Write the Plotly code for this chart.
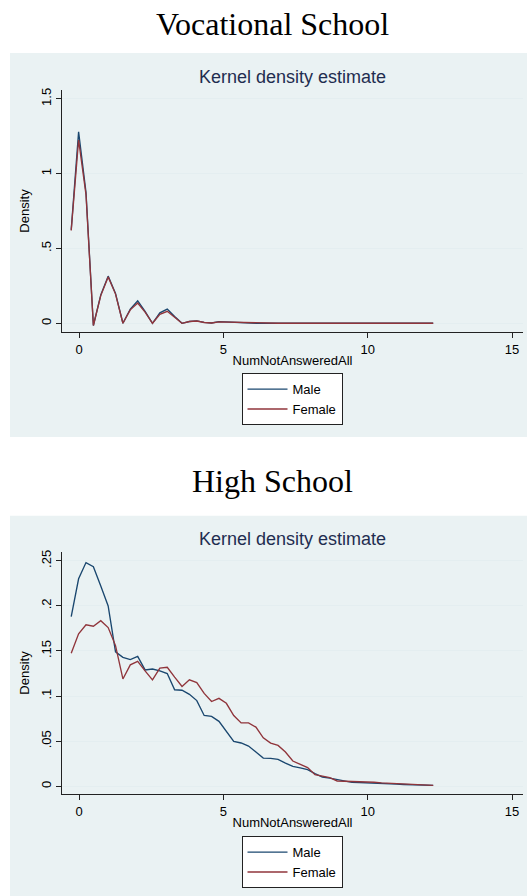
import plotly.graph_objects as go

W, H = 527, 896

# Evaluation grid of the kernel density (x values)
x_grid = [-0.270, -0.014, 0.242, 0.498, 0.754, 1.010, 1.265, 1.521, 1.777, 2.033,
          2.289, 2.545, 2.801, 3.057, 3.313, 3.569, 3.824, 4.080, 4.336, 4.592,
          4.848, 5.104, 5.360, 5.616, 5.872, 6.128, 6.383, 6.639, 6.895, 7.151,
          7.407, 7.663, 7.919, 8.175, 8.431, 8.687, 8.942, 9.198, 9.454, 9.710,
          9.966, 10.222, 10.478, 10.734, 10.990, 11.246, 11.501, 11.757, 12.013, 12.269]

voc_male = [0.625, 1.280, 0.875, -0.015, 0.190, 0.315, 0.200, 0.000, 0.095, 0.150,
            0.080, 0.000, 0.070, 0.095, 0.045, 0.000, 0.012, 0.016, 0.006, 0.002,
            0.011, 0.009, 0.003, 0.001, 0.0005, 0.0005, 0.0005, 0.0005, 0.0005, 0.0005,
            0.0005, 0.002, 0.003, 0.003, 0.002, 0.0005, 0.0005, 0.0005, 0.0005, 0.0005,
            0.0005, 0.0005, 0.0005, 0.0005, 0.0005, 0.0005, 0.0005, 0.0005, 0.0005, 0.0005]
voc_female = [0.620, 1.225, 0.860, -0.015, 0.185, 0.310, 0.195, 0.000, 0.090, 0.135,
              0.075, 0.000, 0.060, 0.080, 0.040, 0.000, 0.012, 0.015, 0.005, 0.002,
              0.009, 0.008, 0.003, 0.001, 0.0005, 0.0005, 0.0005, 0.0005, 0.0005, 0.0005,
              0.0005, 0.001, 0.001, 0.001, 0.001, 0.0005, 0.0005, 0.0005, 0.0005, 0.0005,
              0.0005, 0.0005, 0.0005, 0.0005, 0.0005, 0.0005, 0.0005, 0.0005, 0.0005, 0.0005]

hs_male = [0.188, 0.230, 0.248, 0.2435, 0.222, 0.200, 0.149, 0.143, 0.1405, 0.144,
           0.129, 0.130, 0.128, 0.125, 0.107, 0.1065, 0.102, 0.095, 0.0785, 0.0775,
           0.072, 0.061, 0.0498, 0.048, 0.0446, 0.038, 0.0313, 0.031, 0.0299, 0.0258,
           0.022, 0.0205, 0.0184, 0.014, 0.0103, 0.009, 0.0074, 0.006, 0.0044, 0.0042,
           0.004, 0.0035, 0.003, 0.0027, 0.0024, 0.002, 0.0016, 0.0013, 0.0011, 0.001]
hs_female = [0.1476, 0.169, 0.179, 0.1775, 0.1836, 0.176, 0.156, 0.119, 0.1346, 0.1386,
             0.128, 0.118, 0.131, 0.132, 0.121, 0.1106, 0.118, 0.115, 0.103, 0.094,
             0.0975, 0.092, 0.0785, 0.0703, 0.0703, 0.0656, 0.0538, 0.0479, 0.0453, 0.038,
             0.028, 0.0243, 0.0207, 0.0129, 0.011, 0.0096, 0.0059, 0.0057, 0.0055, 0.0052,
             0.005, 0.0045, 0.0038, 0.0034, 0.003, 0.0024, 0.0018, 0.0014, 0.0012, 0.001]

panel_titles = ["Vocational School", "High School"]
series_names = ["Male", "Female"]
x_ticks = [0, 5, 10, 15]
voc_y_ticks = [0, 0.5, 1, 1.5]
voc_y_text = ["0", ".5", "1", "1.5"]
hs_y_ticks = [0, 0.05, 0.1, 0.15, 0.2, 0.25]
hs_y_text = ["0", ".05", ".1", ".15", ".2", ".25"]

NAVY = "#1a476f"
MAROON = "#90353b"
BG = "#eaf2f3"
GRID = "#e4eef0"
SANS = "Liberation Sans, Arial, sans-serif"
SERIF = "Liberation Serif, Times New Roman, serif"

def py(p):  # pixel from top -> paper y
    return 1 - p / H

def px(p):
    return p / W

fig = go.Figure()

LW = 1.35
fig.add_trace(go.Scatter(x=x_grid, y=voc_male, mode="lines", name=series_names[0],
                         line=dict(color=NAVY, width=LW), xaxis="x", yaxis="y", legend="legend"))
fig.add_trace(go.Scatter(x=x_grid, y=voc_female, mode="lines", name=series_names[1],
                         line=dict(color=MAROON, width=LW), xaxis="x", yaxis="y", legend="legend"))
fig.add_trace(go.Scatter(x=x_grid, y=hs_male, mode="lines", name=series_names[0],
                         line=dict(color=NAVY, width=LW), xaxis="x2", yaxis="y2", legend="legend2"))
fig.add_trace(go.Scatter(x=x_grid, y=hs_female, mode="lines", name=series_names[1],
                         line=dict(color=MAROON, width=LW), xaxis="x2", yaxis="y2", legend="legend2"))

x_left, x_right = 62, 523
x_range = [-0.589, 15.38]

def xaxis(anchor):
    return dict(domain=[px(x_left), px(x_right)], range=x_range, anchor=anchor,
                tickvals=x_ticks, ticks="outside", ticklen=5, tickcolor="#222",
                showline=True, linecolor="#222", linewidth=1, showgrid=False,
                zeroline=False, tickfont=dict(family=SANS, size=13, color="#000"),
                title=dict(text="NumNotAnsweredAll", font=dict(family=SANS, size=13, color="#000"),
                           standoff=0))

def yaxis(anchor, dom, rng, tv, tt):
    return dict(domain=dom, range=rng, anchor=anchor, tickvals=tv, ticktext=tt,
                tickangle=-90, ticks="outside", ticklen=5, tickcolor="#222",
                showline=True, linecolor="#222", linewidth=1, showgrid=True,
                gridcolor=GRID, gridwidth=1, zeroline=False,
                tickfont=dict(family=SANS, size=13, color="#000"),
                title=dict(text="Density", font=dict(family=SANS, size=13, color="#000"),
                           standoff=6))

legend_common = dict(x=px(292), xanchor="center", yanchor="top",
                     bgcolor="white", bordercolor="#222", borderwidth=1,
                     font=dict(family=SANS, size=13, color="#000"), tracegroupgap=0,
                     itemwidth=40)

fig.update_layout(
    width=W, height=H, margin=dict(l=0, r=0, t=0, b=0),
    paper_bgcolor="white", plot_bgcolor="white",
    showlegend=True,
    xaxis=xaxis("y"),
    yaxis=yaxis("x", [py(331), py(88)], [-0.06, 1.56], voc_y_ticks, voc_y_text),
    xaxis2=xaxis("y2"),
    yaxis2=yaxis("x2", [py(794), py(551)], [-0.0088, 0.26], hs_y_ticks, hs_y_text),
    legend=dict(y=py(372), **legend_common),
    legend2=dict(y=py(836), **legend_common),
    shapes=[
        dict(type="rect", xref="paper", yref="paper", x0=px(10), x1=1, y0=py(436), y1=py(51),
             fillcolor=BG, line=dict(width=0), layer="below"),
        dict(type="rect", xref="paper", yref="paper", x0=px(10), x1=1, y0=py(896), y1=py(515),
             fillcolor=BG, line=dict(width=0), layer="below"),
    ],
    annotations=[
        dict(text=panel_titles[0], xref="paper", yref="paper", x=px(272), y=py(22),
             xanchor="center", yanchor="middle", showarrow=False,
             font=dict(family=SERIF, size=32, color="#000")),
        dict(text=panel_titles[1], xref="paper", yref="paper", x=px(272), y=py(480),
             xanchor="center", yanchor="middle", showarrow=False,
             font=dict(family=SERIF, size=32, color="#000")),
        dict(text="Kernel density estimate", xref="paper", yref="paper", x=px(292), y=py(75),
             xanchor="center", yanchor="middle", showarrow=False,
             font=dict(family=SANS, size=18, color="#1f2d50")),
        dict(text="Kernel density estimate", xref="paper", yref="paper", x=px(292), y=py(538),
             xanchor="center", yanchor="middle", showarrow=False,
             font=dict(family=SANS, size=18, color="#1f2d50")),
    ],
)

fig.write_html("out.html")
